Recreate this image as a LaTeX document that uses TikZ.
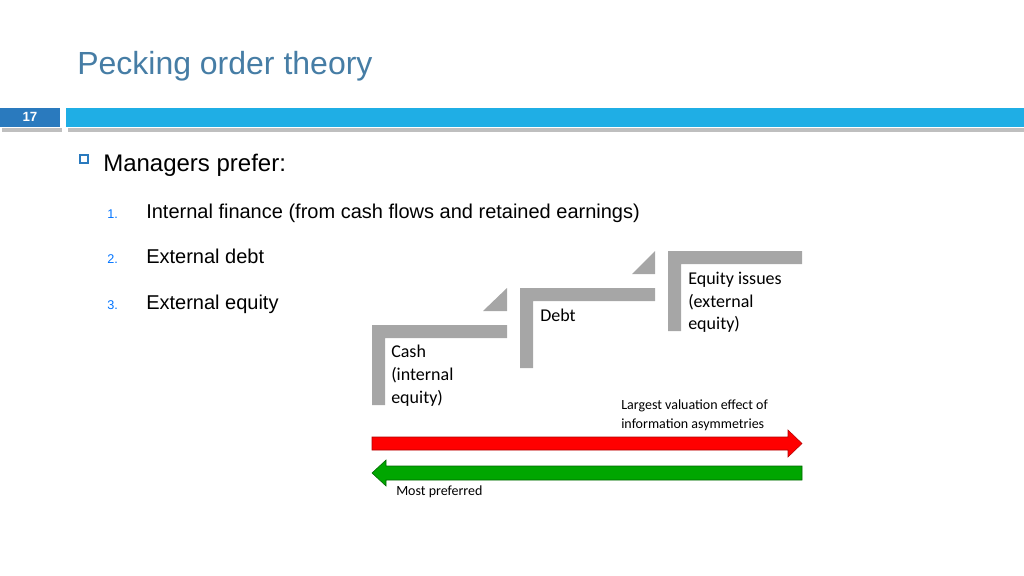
\documentclass[tikz,border=0pt]{standalone}
\usepackage{fontspec}
\setmainfont{Liberation Sans}
\newfontfamily\carlitofont{Carlito}
\begin{document}
\begin{tikzpicture}[x=0.75pt,y=-0.75pt,
  stepbar/.style={fill=black!35,draw=none},
  box/.style={font=\carlitofont\fontsize{13.5}{17}\selectfont,anchor=north west,align=left,inner sep=0pt},
  small/.style={font=\carlitofont\fontsize{10.5}{14.5}\selectfont,anchor=west,inner sep=0pt},
  item/.style={font=\fontsize{15}{18}\selectfont,anchor=base west,inner sep=0pt},
  num/.style={font=\fontsize{9.5}{11}\selectfont,text=blue!55!cyan,anchor=base west,inner sep=0pt}]
\definecolor{titleblue}{RGB}{70,125,165}
\definecolor{barblue}{RGB}{31,174,229}
\definecolor{numblue}{RGB}{42,122,190}
\useasboundingbox (0,0) rectangle (1024,575);
\node[anchor=base west,inner sep=0pt,text=titleblue,font=\fontsize{24}{28}\selectfont] (title) at (77,74) {Pecking order theory};
% header bar
\fill[black!25] (2,128) rectangle (62,132);
\fill[black!25] (68,128) rectangle (1024,132);
\fill[numblue] (0,108) rectangle (60,127);
\fill[barblue] (66,108) rectangle (1024,127);
\node[text=white,font=\bfseries\fontsize{10}{12}\selectfont] (num) at (30,117) {17};
% bullets
\draw[numblue,line width=0.8pt] (80,155) rectangle (88,163);
\node[item,font=\fontsize{18}{22}\selectfont] (mp) at (103,171) {Managers prefer:};
\node[num] (n1) at (107,218) {1.};
\node[item] (t1) at (146,218) {Internal finance (from cash flows and retained earnings)};
\node[num] (n2) at (107,263) {2.};
\node[item] (t2) at (146,263) {External debt};
\node[num] (n3) at (107,309) {3.};
\node[item] (t3) at (146,309) {External equity};
% steps
\fill[stepbar] (372,325) -- (507,325) -- (507,338) -- (385,338) -- (385,405) -- (372,405) -- cycle;
\fill[stepbar] (483,311) -- (507,288) -- (507,311) -- cycle;
\fill[stepbar] (520,288) -- (655,288) -- (655,301) -- (533,301) -- (533,368) -- (520,368) -- cycle;
\fill[stepbar] (632,274) -- (655,251) -- (655,274) -- cycle;
\fill[stepbar] (668,251) -- (802,251) -- (802,264) -- (681,264) -- (681,331) -- (668,331) -- cycle;
\node[box] (cash) at (391,345) {Cash\\(internal\\equity)};
\node[box] (debt) at (540,309) {Debt};
\node[box] (eq) at (688,272) {Equity issues\\(external\\equity)};
% arrows
\draw[fill=red,draw=red!70!black,line width=0.4pt] (372,437) -- (788,437) -- (788,430) -- (802,443.5) -- (788,457) -- (788,450) -- (372,450) -- cycle;
\draw[fill=green!65!black,draw=green!40!black,line width=0.4pt] (802,466) -- (386,466) -- (386,460) -- (372,473) -- (386,486) -- (386,480) -- (802,480) -- cycle;
\node[small] (l1) at (621,406) {Largest valuation effect of};
\node[small] (l2) at (621,425) {information asymmetries};
\node[small] (mpf) at (396,492) {Most preferred};
\end{tikzpicture}
\end{document}
